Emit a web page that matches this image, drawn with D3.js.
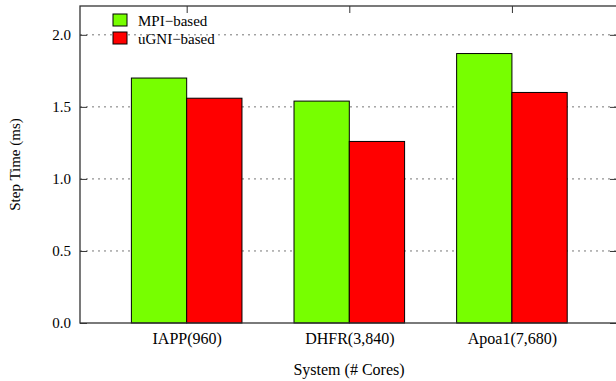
<!DOCTYPE html>
<html>
<head>
<meta charset="utf-8">
<script src="https://cdn.jsdelivr.net/npm/d3@7"></script>
<style>
  body { margin: 0; background: #fff; }
</style>
</head>
<body>
<div id="chart"></div>
<script>
// データ
var systems = ["IAPP(960)", "DHFR(3,840)", "Apoa1(7,680)"];
var seriesNames = ["MPI\u2212based", "uGNI\u2212based"];
var mpiValues = [1.70, 1.54, 1.87];
var ugniValues = [1.56, 1.26, 1.60];
var yTicks = [0.0, 0.5, 1.0, 1.5, 2.0];
var colors = ["#77ff00", "#ff0000"];

var fontFamily = "'Liberation Serif', 'Times New Roman', Times, serif";
var width = 616,
  height = 381;
var padding = { top: 6, right: 0, bottom: 58, left: 80 };

var svg = d3
  .select("#chart")
  .append("svg")
  .attr("width", width)
  .attr("height", height)
  .style("font-family", fontFamily);

// X軸 (カテゴリ番号)
var xScale = d3
  .scaleLinear()
  .domain([-0.656, 2.64])
  .range([padding.left, width - padding.right]);

var yScale = d3
  .scaleLinear()
  .domain([0, 2.2])
  .range([height - padding.bottom, padding.top]);

var barW = xScale(0.34) - xScale(0);
var plotRight = width + 1;

// グリッド
svg
  .append("g")
  .selectAll("line")
  .data(yTicks.slice(1))
  .enter()
  .append("line")
  .attr("x1", padding.left)
  .attr("x2", plotRight)
  .attr("y1", function (d) { return yScale(d); })
  .attr("y2", function (d) { return yScale(d); })
  .attr("stroke", "#777")
  .attr("stroke-width", 1)
  .attr("stroke-dasharray", "2,4");

// バー
var series = [mpiValues, ugniValues];
series.forEach(function (vals, s) {
  svg
    .append("g")
    .selectAll("rect")
    .data(vals)
    .enter()
    .append("rect")
    .attr("x", function (d, i) { return xScale(i) - barW + s * barW; })
    .attr("y", function (d) { return yScale(d); })
    .attr("width", barW)
    .attr("height", function (d) { return yScale(0) - yScale(d); })
    .attr("fill", colors[s])
    .attr("stroke", "#000")
    .attr("stroke-width", 1);
});

// 枠
svg
  .append("rect")
  .attr("x", padding.left)
  .attr("y", yScale(2.2))
  .attr("width", plotRight - padding.left)
  .attr("height", yScale(0) - yScale(2.2))
  .attr("fill", "none")
  .attr("stroke", "#333")
  .attr("stroke-width", 1.3);

// Y軸
var yAxis = d3
  .axisLeft(yScale)
  .tickValues(yTicks)
  .tickSize(-7)
  .tickPadding(9)
  .tickFormat(d3.format(".1f"));
var gY = svg
  .append("g")
  .attr("transform", "translate(" + padding.left + ",0)")
  .call(yAxis);
gY.attr("font-family", fontFamily).attr("font-size", 15);
gY.select(".domain").remove();
gY.selectAll("line").attr("stroke", "#333");
gY.selectAll("text").attr("fill", "#000");

// 右側の目盛り
svg
  .append("g")
  .attr("transform", "translate(" + plotRight + ",0)")
  .call(d3.axisRight(yScale).tickValues(yTicks).tickSize(-7).tickFormat(""))
  .call(function (g) { g.select(".domain").remove(); g.selectAll("line").attr("stroke", "#333"); });

// X軸
var xAxis = d3
  .axisBottom(xScale)
  .tickValues(d3.range(systems.length))
  .tickSize(0)
  .tickPadding(10)
  .tickFormat(function (d) { return systems[d]; });
var gX = svg
  .append("g")
  .attr("transform", "translate(0," + yScale(0) + ")")
  .call(xAxis);
gX.attr("font-family", fontFamily).attr("font-size", 16);
gX.select(".domain").remove();
gX.selectAll("text").attr("fill", "#000");

// 上側の目盛り
svg
  .append("g")
  .attr("transform", "translate(0," + yScale(2.2) + ")")
  .call(d3.axisTop(xScale).tickValues(d3.range(systems.length)).tickSize(-7).tickFormat(""))
  .call(function (g) { g.select(".domain").remove(); g.selectAll("line").attr("stroke", "#333"); });

// 軸タイトル
svg
  .append("text")
  .attr("x", 349)
  .attr("y", 375)
  .attr("text-anchor", "middle")
  .attr("font-family", fontFamily)
  .attr("font-size", 16)
  .text("System (# Cores)");

svg
  .append("text")
  .attr("transform", "translate(20," + (yScale(0) + yScale(2.2)) / 2 + ") rotate(-90)")
  .attr("text-anchor", "middle")
  .attr("font-family", fontFamily)
  .attr("font-size", 15)
  .text("Step Time (ms)");

// 凡例
var legend = svg
  .selectAll(".legend")
  .data(seriesNames)
  .enter()
  .append("g")
  .attr("transform", function (d, i) { return "translate(113," + (14 + i * 18) + ")"; });
legend
  .append("rect")
  .attr("width", 14)
  .attr("height", 12)
  .attr("fill", function (d, i) { return colors[i]; })
  .attr("stroke", "#000");
legend
  .append("text")
  .attr("x", 25)
  .attr("y", 12)
  .attr("font-family", fontFamily)
  .attr("font-size", 15)
  .text(function (d) { return d; });
</script>
</body>
</html>
